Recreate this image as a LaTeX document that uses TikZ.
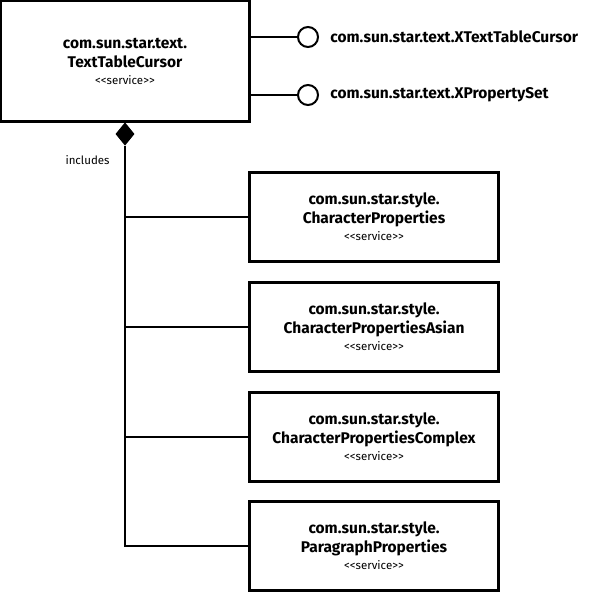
\documentclass[tikz,border=0pt]{standalone}
\usepackage{fontspec}
\setmainfont{Fira Sans}
\usetikzlibrary{shapes.geometric}
\begin{document}
\begin{tikzpicture}[x=1pt,y=-1pt,line width=2.2pt,
 box/.style={draw,fill=white,minimum width=249pt,minimum height=89pt,align=center,inner sep=0pt,font=\bfseries\fontsize{15.5}{19}\selectfont},
 iface/.style={draw,circle,minimum size=20pt,inner sep=0pt,line width=2pt},
 lbl/.style={anchor=west,font=\bfseries\fontsize{15.5}{17}\selectfont}]
\useasboundingbox (0,0) rectangle (600,592);
\node[box,minimum width=249pt,minimum height=121pt] (main) at (125,61) {com.sun.star.text.\\TextTableCursor\\[-2pt]{\mdseries\fontsize{11.5}{13}\selectfont <{}<service>{}>}};
\node[iface] (i1) at (308,37) {};
\node[iface] (i2) at (308,95) {};
\node[lbl] (t1) at (326,37) {com.sun.star.text.XTextTableCursor};
\node[lbl] (t2) at (326,95) {com.sun.star.text.XPropertySet};
\draw (main.east |- i1) -- (i1.west);
\draw (main.east |- i2) -- (i2.west);
\node[draw,fill=black,diamond,minimum width=18pt,minimum height=22pt,inner sep=0pt,line width=1pt] (d) at (125,134) {};
\node[anchor=east,font=\fontsize{11.5}{13}\selectfont] (inc) at (114,160) {includes};
\foreach \n/\y/\a/\b in {b1/217/com.sun.star.style./CharacterProperties,b2/327/com.sun.star.style./CharacterPropertiesAsian,b3/437/com.sun.star.style./CharacterPropertiesComplex,b4/546/com.sun.star.style./ParagraphProperties}{
 \node[box] (\n) at (374,\y) {\a\\\b\\[-2pt]{\mdseries\fontsize{11.5}{13}\selectfont <{}<service>{}>}};
}
\coordinate (c1) at (125,217);\coordinate (c2) at (125,327);\coordinate (c3) at (125,437);\coordinate (c4) at (125,546);
\draw (d.south) -- (c4) -- (b4.west);
\draw (c1) -- (b1.west); \draw (c2) -- (b2.west); \draw (c3) -- (b3.west);
\end{tikzpicture}
\end{document}
